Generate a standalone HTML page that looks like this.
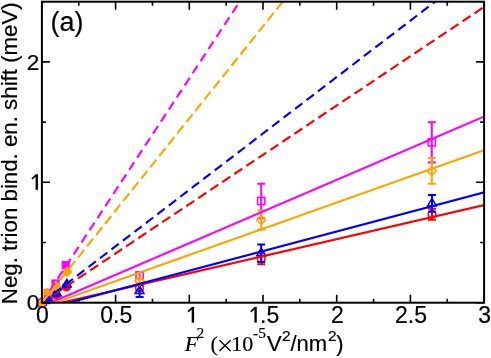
<!DOCTYPE html>
<html><head><meta charset="utf-8"><title>chart</title><style>html,body{margin:0;padding:0;background:#fff;overflow:hidden}svg{display:block;will-change:transform}</style></head><body>
<svg width="491" height="358" viewBox="0 0 491 358">
<rect width="491" height="358" fill="#fff"/>
<defs><clipPath id="c"><rect x="41.9" y="1.7" width="442.20000000000005" height="301.0"/></clipPath></defs>
<circle cx="41.90" cy="302.70" r="4.1" fill="#ff0000" stroke="#ff0000" stroke-width="1"/>
<circle cx="48.00" cy="299.80" r="4.1" fill="#ff0000" stroke="#ff0000" stroke-width="1"/>
<circle cx="56.00" cy="294.90" r="4.1" fill="#ff0000" stroke="#ff0000" stroke-width="1"/>
<circle cx="66.40" cy="286.90" r="4.1" fill="#ff0000" stroke="#ff0000" stroke-width="1"/>
<path d="M41.90 296.93L46.90 305.59L36.90 305.59Z" fill="#0000ff" stroke="#0000ff" stroke-width="1"/>
<path d="M48.30 292.83L53.30 301.49L43.30 301.49Z" fill="#0000ff" stroke="#0000ff" stroke-width="1"/>
<path d="M56.70 287.63L61.70 296.29L51.70 296.29Z" fill="#0000ff" stroke="#0000ff" stroke-width="1"/>
<path d="M66.80 278.63L71.80 287.29L61.80 287.29Z" fill="#0000ff" stroke="#0000ff" stroke-width="1"/>
<rect x="38.30" y="299.10" width="7.2" height="7.2" fill="#ff00ff" stroke="#ff00ff" stroke-width="1"/>
<rect x="44.20" y="289.60" width="7.2" height="7.2" fill="#ff00ff" stroke="#ff00ff" stroke-width="1"/>
<rect x="51.90" y="279.90" width="7.2" height="7.2" fill="#ff00ff" stroke="#ff00ff" stroke-width="1"/>
<rect x="62.10" y="261.50" width="7.2" height="7.2" fill="#ff00ff" stroke="#ff00ff" stroke-width="1"/>
<path d="M36.80 303.00L41.80 298.00L46.80 303.00L41.80 308.00Z" fill="#ffa500" stroke="#ffa500" stroke-width="1"/>
<path d="M42.40 292.90L47.40 287.90L52.40 292.90L47.40 297.90Z" fill="#ffa500" stroke="#ffa500" stroke-width="1"/>
<path d="M51.00 285.70L56.00 280.70L61.00 285.70L56.00 290.70Z" fill="#ffa500" stroke="#ffa500" stroke-width="1"/>
<path d="M62.00 271.80L67.00 266.80L72.00 271.80L67.00 276.80Z" fill="#ffa500" stroke="#ffa500" stroke-width="1"/>
<path d="M139.50 285.00V291.00M135.50 285.00H143.50M135.50 291.00H143.50" fill="none" stroke="#ff0000" stroke-width="2"/>
<circle cx="139.50" cy="288.00" r="3.8" fill="none" stroke="#ff0000" stroke-width="1.5"/>
<path d="M261.20 253.20V264.20M257.20 253.20H265.20M257.20 264.20H265.20" fill="none" stroke="#ff0000" stroke-width="2"/>
<circle cx="261.20" cy="258.70" r="3.8" fill="none" stroke="#ff0000" stroke-width="1.5"/>
<path d="M432.00 208.80V219.80M428.00 208.80H436.00M428.00 219.80H436.00" fill="none" stroke="#ff0000" stroke-width="2"/>
<circle cx="432.00" cy="214.30" r="3.8" fill="none" stroke="#ff0000" stroke-width="1.5"/>
<path d="M139.60 285.00V297.00M135.60 285.00H143.60M135.60 297.00H143.60" fill="none" stroke="#0000ff" stroke-width="2"/>
<path d="M139.60 285.92L144.00 293.54L135.20 293.54Z" fill="none" stroke="#0000ff" stroke-width="1.5"/>
<path d="M261.20 244.40V262.00M257.20 244.40H265.20M257.20 262.00H265.20" fill="none" stroke="#0000ff" stroke-width="2"/>
<path d="M261.20 248.12L265.60 255.74L256.80 255.74Z" fill="none" stroke="#0000ff" stroke-width="1.5"/>
<path d="M432.00 195.00V211.80M428.00 195.00H436.00M428.00 211.80H436.00" fill="none" stroke="#0000ff" stroke-width="2"/>
<path d="M432.00 198.32L436.40 205.94L427.60 205.94Z" fill="none" stroke="#0000ff" stroke-width="1.5"/>
<path d="M139.60 271.90V279.10M135.60 271.90H143.60M135.60 279.10H143.60" fill="none" stroke="#ff00ff" stroke-width="2"/>
<rect x="136.00" y="271.90" width="7.2" height="7.2" fill="none" stroke="#ff00ff" stroke-width="1.5"/>
<path d="M261.20 183.70V218.30M257.20 183.70H265.20M257.20 218.30H265.20" fill="none" stroke="#ff00ff" stroke-width="2"/>
<rect x="257.60" y="197.40" width="7.2" height="7.2" fill="none" stroke="#ff00ff" stroke-width="1.5"/>
<path d="M431.80 122.30V162.50M427.80 122.30H435.80M427.80 162.50H435.80" fill="none" stroke="#ff00ff" stroke-width="2"/>
<rect x="428.20" y="138.80" width="7.2" height="7.2" fill="none" stroke="#ff00ff" stroke-width="1.5"/>
<path d="M139.60 279.30V282.70M135.60 279.30H143.60M135.60 282.70H143.60" fill="none" stroke="#ffa500" stroke-width="2"/>
<path d="M135.00 281.00L139.60 276.40L144.20 281.00L139.60 285.60Z" fill="none" stroke="#ffa500" stroke-width="1.5"/>
<path d="M261.20 210.60V229.40M257.20 210.60H265.20M257.20 229.40H265.20" fill="none" stroke="#ffa500" stroke-width="2"/>
<path d="M256.60 220.00L261.20 215.40L265.80 220.00L261.20 224.60Z" fill="none" stroke="#ffa500" stroke-width="1.5"/>
<path d="M431.80 158.10V183.70M427.80 158.10H435.80M427.80 183.70H435.80" fill="none" stroke="#ffa500" stroke-width="2"/>
<path d="M427.20 170.90L431.80 166.30L436.40 170.90L431.80 175.50Z" fill="none" stroke="#ffa500" stroke-width="1.5"/>
<g clip-path="url(#c)" fill="none" stroke-width="2.15">
<line x1="41.9" y1="302.7" x2="501.90" y2="-4.99" stroke="#ff0000" stroke-dasharray="9.6 4.85" stroke-dashoffset="-0.3"/>
<line x1="41.9" y1="302.7" x2="501.90" y2="-49.43" stroke="#0000ff" stroke-dasharray="9.2 5.25" stroke-dashoffset="-0.9"/>
<line x1="41.9" y1="302.7" x2="501.90" y2="-397.42" stroke="#ff00ff" stroke-dasharray="9.1 5.35" stroke-dashoffset="-0.0"/>
<line x1="41.9" y1="302.7" x2="501.90" y2="-272.30" stroke="#ffa500" stroke-dasharray="9.9 4.55" stroke-dashoffset="-0.0"/>
<line x1="41.9" y1="307.3" x2="491.9" y2="203.21" stroke="#ff0000"/>
<line x1="41.9" y1="309.8" x2="491.9" y2="190.21" stroke="#0000ff"/>
<line x1="41.9" y1="306.5" x2="491.9" y2="113.21" stroke="#ff00ff"/>
<line x1="41.9" y1="307.3" x2="491.9" y2="147.44" stroke="#ffa500"/>
</g>
<rect x="41.9" y="1.7" width="442.20000000000005" height="301.0" fill="none" stroke="#000" stroke-width="2"/>
<path d="M41.90 302.7v-8.0M41.90 1.7v8.0M78.75 302.7v-4.0M78.75 1.7v4.0M115.60 302.7v-8.0M115.60 1.7v8.0M152.45 302.7v-4.0M152.45 1.7v4.0M189.30 302.7v-8.0M189.30 1.7v8.0M226.15 302.7v-4.0M226.15 1.7v4.0M263.00 302.7v-8.0M263.00 1.7v8.0M299.85 302.7v-4.0M299.85 1.7v4.0M336.70 302.7v-8.0M336.70 1.7v8.0M373.55 302.7v-4.0M373.55 1.7v4.0M410.40 302.7v-8.0M410.40 1.7v8.0M447.25 302.7v-4.0M447.25 1.7v4.0M484.10 302.7v-8.0M484.10 1.7v8.0M41.9 302.70h8.0M484.1 302.70h-8.0M41.9 242.50h4.0M484.1 242.50h-4.0M41.9 182.30h8.0M484.1 182.30h-8.0M41.9 122.10h4.0M484.1 122.10h-4.0M41.9 61.90h8.0M484.1 61.90h-8.0M41.9 1.70h4.0M484.1 1.70h-4.0" stroke="#000" stroke-width="1.6" fill="none"/>
<g font-family="Liberation Sans, sans-serif" font-size="22" fill="#000" stroke="#000" stroke-width="0.2">
<text x="42.50" y="322.8" text-anchor="middle" font-size="23">0</text>
<text x="116.20" y="322.8" text-anchor="middle" font-size="23">0.5</text>
<text x="337.30" y="322.8" text-anchor="middle" font-size="23">2</text>
<text x="411.00" y="322.8" text-anchor="middle" font-size="23">2.5</text>
<text x="484.70" y="322.8" text-anchor="middle" font-size="23">3</text>
<path d="M194.00 322.50H191.80V309.40L188.50 312.30L187.70 311.00L191.90 307.00H194.00Z" fill="#000"/>
<path d="M256.70 322.50H254.50V309.40L251.20 312.30L250.40 311.00L254.60 307.00H256.70Z" fill="#000"/>
<text x="279.2" y="322.8" text-anchor="end" font-size="23">.5</text>
<text x="39.3" y="310.45" text-anchor="end" font-size="22.6">0</text>
<text x="39.3" y="69.65" text-anchor="end" font-size="22.6">2</text>
<path d="M37.90 189.80H35.70V176.60L32.40 179.50L31.60 178.20L35.80 174.20H37.90Z" fill="#000"/>
<text x="50.6" y="30.6" font-size="27">(a)</text>
<text transform="translate(17,304.2) rotate(-90)" font-size="22.27">Neg. trion bind. en. shift (meV)</text>
</g>
<text x="184.7" y="351.0" font-family="Liberation Serif, serif" font-size="22" fill="#000" stroke="#000" stroke-width="0.2" font-style="italic">F</text>
<text x="196.6" y="338.3" font-family="Liberation Serif, serif" font-size="15.4" fill="#000" stroke="#000" stroke-width="0.2" >2</text>
<text x="210.6" y="351.0" font-family="Liberation Serif, serif" font-size="22" fill="#000" stroke="#000" stroke-width="0.2" >(</text>
<path d="M219.4 340.2L230.6 351.0M230.6 340.2L219.4 351.0" stroke="#000" stroke-width="1.3" fill="none"/>
<text x="231.2" y="351.0" font-family="Liberation Serif, serif" font-size="22" fill="#000" stroke="#000" stroke-width="0.2" >10</text>
<text x="253.1" y="338.3" font-family="Liberation Serif, serif" font-size="15.4" fill="#000" stroke="#000" stroke-width="0.2" >-5</text>
<text x="266.9" y="351.2" font-family="Liberation Sans, sans-serif" font-size="22" fill="#000" stroke="#000" stroke-width="0.2" >V</text>
<text x="282.0" y="340.6" font-family="Liberation Sans, sans-serif" font-size="15.4" fill="#000" stroke="#000" stroke-width="0.2" >2</text>
<text x="290.4" y="351.2" font-family="Liberation Sans, sans-serif" font-size="22" fill="#000" stroke="#000" stroke-width="0.2" >/nm</text>
<text x="327.9" y="340.6" font-family="Liberation Sans, sans-serif" font-size="15.4" fill="#000" stroke="#000" stroke-width="0.2" >2</text>
<text x="336.3" y="351.2" font-family="Liberation Sans, sans-serif" font-size="22" fill="#000" stroke="#000" stroke-width="0.2" >)</text>
</svg>
</body></html>
